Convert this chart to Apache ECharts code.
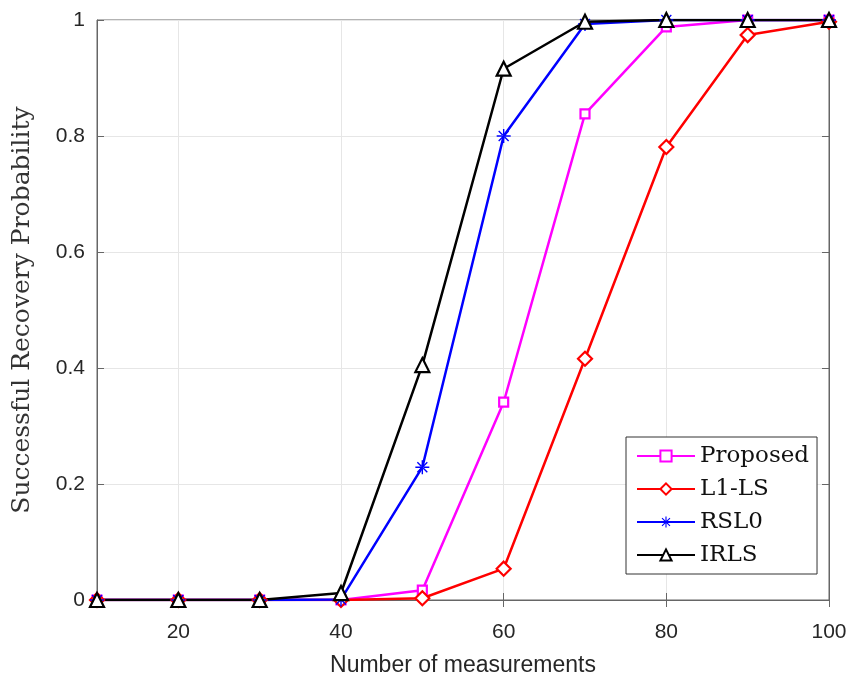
<!DOCTYPE html>
<html><head><meta charset="utf-8">
<script src="https://cdn.jsdelivr.net/npm/echarts@6/dist/echarts.min.js"></script>
<style>html,body{margin:0;padding:0;background:#fff}#c{width:854px;height:690px}</style>
</head><body><div id="c"></div>
<script>
const measurements = [10, 20, 30, 40, 50, 60, 70, 80, 90, 100];
const proposed = [0, 0, 0, 0, 0.017, 0.341, 0.838, 0.988, 1, 1];
const l1ls = [0, 0, 0, 0, 0.003, 0.054, 0.416, 0.781, 0.974, 0.997];
const rsl0 = [0, 0, 0, 0.001, 0.229, 0.800, 0.993, 1, 1, 1];
const irls = [0, 0, 0, 0.012, 0.405, 0.916, 0.997, 1, 1, 1];
const xTicks = [20, 40, 60, 80, 100];
const yTicks = [0, 0.2, 0.4, 0.6, 0.8, 1];

const asterisk = 'path://M-1,-10L1,-10L1,10L-1,10Z M-10,-1L10,-1L10,1L-10,1Z M-7.8,-6.4L6.4,7.8L7.8,6.4L-6.4,-7.8Z M6.4,-7.8L7.8,-6.4L-6.4,7.8L-7.8,6.4Z';
const axisCol = '#666';
const txtCol = '#262626';
function pairs(arr){ return measurements.map((m,i)=>[m, arr[i]]); }
function mk(name, data, color, symbol, size, filled){
  return {
    name, type:'line', data: pairs(data),
    symbol, symbolSize: size, showSymbol:true,
    lineStyle:{color, width:2.5},
    itemStyle:{color: filled ? color : '#fff', borderColor: color, borderWidth: filled?0:2.2},
    emphasis:{disabled:true}, animation:false, z: 3
  };
}
const chart = echarts.init(document.getElementById('c'), null, {renderer:'canvas'});
chart.setOption({
  animation:false,
  backgroundColor:'#fff',
  grid:{left:97, right:25, top:20, bottom:90, show:true, borderColor:axisCol, borderWidth:1,
    backgroundColor:'transparent', containLabel:false, outerBoundsMode:'none'},
  legend:{
    orient:'vertical', left:626, top:437,
    backgroundColor:'#fff', borderColor:'#333', borderWidth:1,
    padding:[6,8,6,10], itemGap:7, itemWidth:58, itemHeight:14,
    textStyle:{fontFamily:'DejaVu Serif', fontSize:23, color:'#111', lineHeight:26},
    data:['Proposed','L1-LS','RSL0','IRLS']
  },
  xAxis:[{
    type:'value', min:10, max:100,
    name:'Number of measurements', nameLocation:'middle', nameGap:54,
    nameTextStyle:{fontFamily:'Liberation Sans', fontSize:23, color:txtCol},
    axisLine:{show:true, lineStyle:{color:axisCol}},
    axisTick:{show:true, inside:true, length:7, lineStyle:{color:axisCol}, customValues:xTicks},
    axisLabel:{fontFamily:'Liberation Sans', fontSize:21, color:txtCol, margin:22, customValues:xTicks},
    splitLine:{show:true, lineStyle:{color:'#e6e6e6'}}
  },{
    type:'value', min:10, max:100, position:'top',
    axisLine:{show:true, lineStyle:{color:axisCol}},
    axisTick:{show:true, inside:true, length:7, lineStyle:{color:axisCol}, customValues:xTicks},
    axisLabel:{show:false}, splitLine:{show:false}
  }],
  yAxis:[{
    type:'value', min:0, max:1, interval:0.2,
    name:'Successful Recovery Probability', nameLocation:'middle', nameGap:62,
    nameTextStyle:{fontFamily:'DejaVu Serif', fontSize:25, color:'#333'},
    axisLine:{show:true, lineStyle:{color:axisCol}},
    axisTick:{show:true, inside:true, length:7, lineStyle:{color:axisCol}},
    axisLabel:{fontFamily:'Liberation Sans', fontSize:21, color:txtCol, margin:12,
      formatter:v=>String(Math.round(v*10)/10)},
    splitLine:{show:true, lineStyle:{color:'#e6e6e6'}}
  },{
    type:'value', min:0, max:1, interval:0.2, position:'right',
    axisLine:{show:true, lineStyle:{color:axisCol}},
    axisTick:{show:true, inside:true, length:7, lineStyle:{color:axisCol}},
    axisLabel:{show:false}, splitLine:{show:false}
  }],
  series:[
    mk('Proposed', proposed, '#ff00ff', 'rect', 9, false),
    mk('L1-LS', l1ls, '#ff0000', 'diamond', 14, false),
    mk('RSL0', rsl0, '#0000ff', asterisk, 14, true),
    mk('IRLS', irls, '#000000', 'triangle', 14, false)
  ]
});
</script></body></html>
